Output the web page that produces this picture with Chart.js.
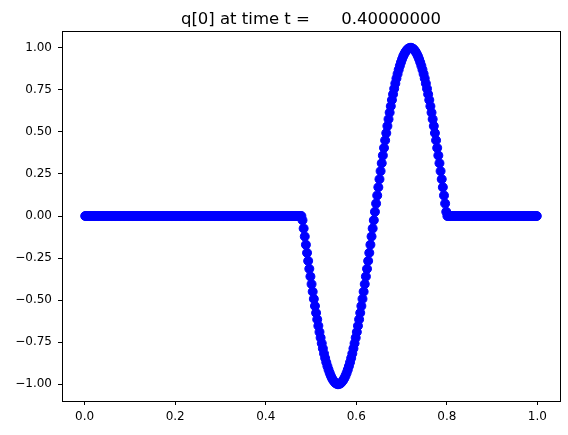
<!DOCTYPE html>
<html>
<head>
<meta charset="utf-8">
<style>
  html, body { margin: 0; padding: 0; background: #fff; }
  #wrap { width: 568px; height: 435px; }
</style>
<script src="https://cdn.jsdelivr.net/npm/chart.js@4/dist/chart.umd.min.js"></script>
</head>
<body>
<div id="wrap"><canvas id="chart" width="568" height="435"></canvas></div>
<script>
const titleText = "q[0] at time t =      0.40000000";

// cell centres (400 cells on [0,1])
const xValues = [
    0.00125, 0.00375, 0.00625, 0.00875, 0.01125, 0.01375, 0.01625, 0.01875, 0.02125, 0.02375, 0.02625, 0.02875, 0.03125, 0.03375, 0.03625, 0.03875, 0.04125, 0.04375, 0.04625, 0.04875,
    0.05125, 0.05375, 0.05625, 0.05875, 0.06125, 0.06375, 0.06625, 0.06875, 0.07125, 0.07375, 0.07625, 0.07875, 0.08125, 0.08375, 0.08625, 0.08875, 0.09125, 0.09375, 0.09625, 0.09875,
    0.10125, 0.10375, 0.10625, 0.10875, 0.11125, 0.11375, 0.11625, 0.11875, 0.12125, 0.12375, 0.12625, 0.12875, 0.13125, 0.13375, 0.13625, 0.13875, 0.14125, 0.14375, 0.14625, 0.14875,
    0.15125, 0.15375, 0.15625, 0.15875, 0.16125, 0.16375, 0.16625, 0.16875, 0.17125, 0.17375, 0.17625, 0.17875, 0.18125, 0.18375, 0.18625, 0.18875, 0.19125, 0.19375, 0.19625, 0.19875,
    0.20125, 0.20375, 0.20625, 0.20875, 0.21125, 0.21375, 0.21625, 0.21875, 0.22125, 0.22375, 0.22625, 0.22875, 0.23125, 0.23375, 0.23625, 0.23875, 0.24125, 0.24375, 0.24625, 0.24875,
    0.25125, 0.25375, 0.25625, 0.25875, 0.26125, 0.26375, 0.26625, 0.26875, 0.27125, 0.27375, 0.27625, 0.27875, 0.28125, 0.28375, 0.28625, 0.28875, 0.29125, 0.29375, 0.29625, 0.29875,
    0.30125, 0.30375, 0.30625, 0.30875, 0.31125, 0.31375, 0.31625, 0.31875, 0.32125, 0.32375, 0.32625, 0.32875, 0.33125, 0.33375, 0.33625, 0.33875, 0.34125, 0.34375, 0.34625, 0.34875,
    0.35125, 0.35375, 0.35625, 0.35875, 0.36125, 0.36375, 0.36625, 0.36875, 0.37125, 0.37375, 0.37625, 0.37875, 0.38125, 0.38375, 0.38625, 0.38875, 0.39125, 0.39375, 0.39625, 0.39875,
    0.40125, 0.40375, 0.40625, 0.40875, 0.41125, 0.41375, 0.41625, 0.41875, 0.42125, 0.42375, 0.42625, 0.42875, 0.43125, 0.43375, 0.43625, 0.43875, 0.44125, 0.44375, 0.44625, 0.44875,
    0.45125, 0.45375, 0.45625, 0.45875, 0.46125, 0.46375, 0.46625, 0.46875, 0.47125, 0.47375, 0.47625, 0.47875, 0.48125, 0.48375, 0.48625, 0.48875, 0.49125, 0.49375, 0.49625, 0.49875,
    0.50125, 0.50375, 0.50625, 0.50875, 0.51125, 0.51375, 0.51625, 0.51875, 0.52125, 0.52375, 0.52625, 0.52875, 0.53125, 0.53375, 0.53625, 0.53875, 0.54125, 0.54375, 0.54625, 0.54875,
    0.55125, 0.55375, 0.55625, 0.55875, 0.56125, 0.56375, 0.56625, 0.56875, 0.57125, 0.57375, 0.57625, 0.57875, 0.58125, 0.58375, 0.58625, 0.58875, 0.59125, 0.59375, 0.59625, 0.59875,
    0.60125, 0.60375, 0.60625, 0.60875, 0.61125, 0.61375, 0.61625, 0.61875, 0.62125, 0.62375, 0.62625, 0.62875, 0.63125, 0.63375, 0.63625, 0.63875, 0.64125, 0.64375, 0.64625, 0.64875,
    0.65125, 0.65375, 0.65625, 0.65875, 0.66125, 0.66375, 0.66625, 0.66875, 0.67125, 0.67375, 0.67625, 0.67875, 0.68125, 0.68375, 0.68625, 0.68875, 0.69125, 0.69375, 0.69625, 0.69875,
    0.70125, 0.70375, 0.70625, 0.70875, 0.71125, 0.71375, 0.71625, 0.71875, 0.72125, 0.72375, 0.72625, 0.72875, 0.73125, 0.73375, 0.73625, 0.73875, 0.74125, 0.74375, 0.74625, 0.74875,
    0.75125, 0.75375, 0.75625, 0.75875, 0.76125, 0.76375, 0.76625, 0.76875, 0.77125, 0.77375, 0.77625, 0.77875, 0.78125, 0.78375, 0.78625, 0.78875, 0.79125, 0.79375, 0.79625, 0.79875,
    0.80125, 0.80375, 0.80625, 0.80875, 0.81125, 0.81375, 0.81625, 0.81875, 0.82125, 0.82375, 0.82625, 0.82875, 0.83125, 0.83375, 0.83625, 0.83875, 0.84125, 0.84375, 0.84625, 0.84875,
    0.85125, 0.85375, 0.85625, 0.85875, 0.86125, 0.86375, 0.86625, 0.86875, 0.87125, 0.87375, 0.87625, 0.87875, 0.88125, 0.88375, 0.88625, 0.88875, 0.89125, 0.89375, 0.89625, 0.89875,
    0.90125, 0.90375, 0.90625, 0.90875, 0.91125, 0.91375, 0.91625, 0.91875, 0.92125, 0.92375, 0.92625, 0.92875, 0.93125, 0.93375, 0.93625, 0.93875, 0.94125, 0.94375, 0.94625, 0.94875,
    0.95125, 0.95375, 0.95625, 0.95875, 0.96125, 0.96375, 0.96625, 0.96875, 0.97125, 0.97375, 0.97625, 0.97875, 0.98125, 0.98375, 0.98625, 0.98875, 0.99125, 0.99375, 0.99625, 0.99875
];

// q[0]
const qValues = [
    0, 0, 0, 0, 0, 0, 0, 0, 0, 0, 0, 0, 0, 0, 0, 0,
    0, 0, 0, 0, 0, 0, 0, 0, 0, 0, 0, 0, 0, 0, 0, 0,
    0, 0, 0, 0, 0, 0, 0, 0, 0, 0, 0, 0, 0, 0, 0, 0,
    0, 0, 0, 0, 0, 0, 0, 0, 0, 0, 0, 0, 0, 0, 0, 0,
    0, 0, 0, 0, 0, 0, 0, 0, 0, 0, 0, 0, 0, 0, 0, 0,
    0, 0, 0, 0, 0, 0, 0, 0, 0, 0, 0, 0, 0, 0, 0, 0,
    0, 0, 0, 0, 0, 0, 0, 0, 0, 0, 0, 0, 0, 0, 0, 0,
    0, 0, 0, 0, 0, 0, 0, 0, 0, 0, 0, 0, 0, 0, 0, 0,
    0, 0, 0, 0, 0, 0, 0, 0, 0, 0, 0, 0, 0, 0, 0, 0,
    0, 0, 0, 0, 0, 0, 0, 0, 0, 0, 0, 0, 0, 0, 0, 0,
    0, 0, 0, 0, 0, 0, 0, 0, 0, 0, 0, 0, 0, 0, 0, 0,
    0, 0, 0, 0, 0, 0, 0, 0, 0, 0, 0, 0, 0, 0, 0, 0,
    -0.025, -0.074, -0.122, -0.171, -0.219, -0.267, -0.314, -0.360,
    -0.405, -0.450, -0.493, -0.535, -0.576, -0.615, -0.653, -0.690,
    -0.724, -0.757, -0.788, -0.818, -0.845, -0.870, -0.893, -0.914,
    -0.933, -0.950, -0.964, -0.976, -0.985, -0.993, -0.997, -1.000,
    -1.000, -0.997, -0.993, -0.985, -0.976, -0.964, -0.950, -0.933,
    -0.914, -0.893, -0.870, -0.845, -0.818, -0.788, -0.757, -0.724,
    -0.690, -0.653, -0.615, -0.576, -0.535, -0.493, -0.450, -0.405,
    -0.360, -0.314, -0.267, -0.219, -0.171, -0.122, -0.074, -0.025,
    0.025, 0.074, 0.122, 0.171, 0.219, 0.267, 0.314, 0.360,
    0.405, 0.450, 0.493, 0.535, 0.576, 0.615, 0.653, 0.690,
    0.724, 0.757, 0.788, 0.818, 0.845, 0.870, 0.893, 0.914,
    0.933, 0.950, 0.964, 0.976, 0.985, 0.993, 0.997, 1.000,
    1.000, 0.997, 0.993, 0.985, 0.976, 0.964, 0.950, 0.933,
    0.914, 0.893, 0.870, 0.845, 0.818, 0.788, 0.757, 0.724,
    0.690, 0.653, 0.615, 0.576, 0.535, 0.493, 0.450, 0.405,
    0.360, 0.314, 0.267, 0.219, 0.171, 0.122, 0.074, 0.025,
    0, 0, 0, 0, 0, 0, 0, 0, 0, 0, 0, 0, 0, 0, 0, 0, 0, 0, 0, 0,
    0, 0, 0, 0, 0, 0, 0, 0, 0, 0, 0, 0, 0, 0, 0, 0, 0, 0, 0, 0,
    0, 0, 0, 0, 0, 0, 0, 0, 0, 0, 0, 0, 0, 0, 0, 0, 0, 0, 0, 0,
    0, 0, 0, 0, 0, 0, 0, 0, 0, 0, 0, 0, 0, 0, 0, 0, 0, 0, 0, 0
];

const points = xValues.map((x, i) => ({ x: x, y: qValues[i] }));

const tickFont = { family: "DejaVu Sans", size: 12 };

// box around the axes + title centred over them
const framePlugin = {
    id: "frame",
    afterDraw(chart) {
        const { ctx, chartArea } = chart;
        ctx.save();
        ctx.strokeStyle = "#000";
        ctx.lineWidth = 1;
        ctx.strokeRect(
            Math.round(chartArea.left) + 0.5,
            Math.round(chartArea.top) + 0.5,
            Math.round(chartArea.right - chartArea.left),
            Math.round(chartArea.bottom - chartArea.top)
        );
        ctx.fillStyle = "#000";
        ctx.font = '16.5px "DejaVu Sans"';
        ctx.textAlign = "center";
        ctx.textBaseline = "alphabetic";
        ctx.fillText(titleText, (chartArea.left + chartArea.right) / 2, 24);
        ctx.restore();
    }
};

const chartConfig = {
    type: "scatter",
    data: {
        datasets: [
            {
                label: "q[0]",
                data: points,
                backgroundColor: "#0000ff",
                borderColor: "#0000ff",
                borderWidth: 1,
                pointRadius: 4.5,
                pointHoverRadius: 4.5
            }
        ]
    },
    options: {
        responsive: false,
        animation: false,
        layout: { padding: { top: 31, right: 8, left: 0, bottom: 0 } },
        plugins: {
            legend: { display: false },
            tooltip: { enabled: false },
            title: { display: false }
        },
        scales: {
            x: {
                type: "linear",
                min: -0.05,
                max: 1.05,
                afterFit: scale => { scale.height = 34; },
                border: { display: true, color: "#000", width: 1 },
                grid: { display: true, drawOnChartArea: false, drawTicks: true, tickLength: 4, color: "#000" },
                ticks: {
                    stepSize: 0.2,
                    includeBounds: false,
                    autoSkip: false,
                    maxRotation: 0,
                    padding: 5,
                    color: "#000",
                    font: tickFont,
                    callback: v => v.toFixed(1)
                }
            },
            y: {
                type: "linear",
                min: -1.1,
                max: 1.1,
                afterFit: scale => { scale.width = 62; },
                border: { display: true, color: "#000", width: 1 },
                grid: { display: true, drawOnChartArea: false, drawTicks: true, tickLength: 4, color: "#000" },
                ticks: {
                    stepSize: 0.25,
                    includeBounds: false,
                    autoSkip: false,
                    padding: 6,
                    color: "#000",
                    font: tickFont,
                    callback: v => (v < 0 ? "\u2212" : "") + Math.abs(v).toFixed(2)
                }
            }
        }
    },
    plugins: [framePlugin]
};

const chart = new Chart(document.getElementById("chart").getContext("2d"), chartConfig);
</script>
</body>
</html>
